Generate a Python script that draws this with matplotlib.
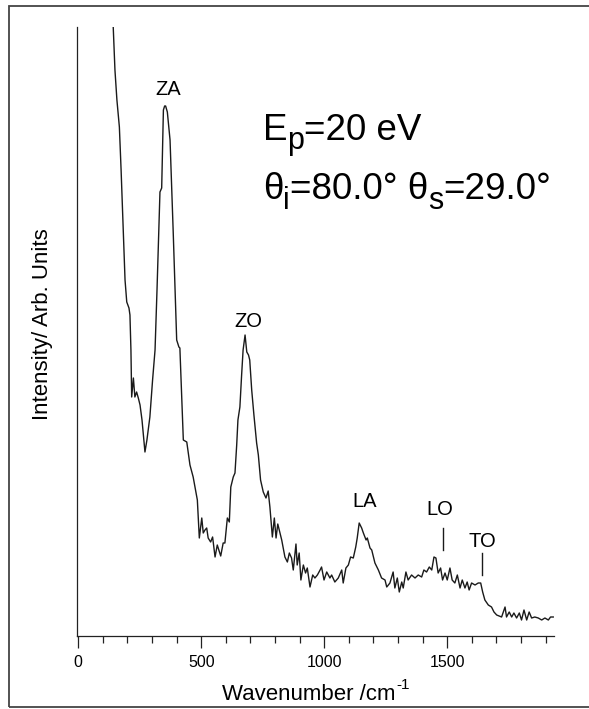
import matplotlib
matplotlib.use("Agg")
import matplotlib.pyplot as plt
from matplotlib.patches import Rectangle
from matplotlib.ticker import MultipleLocator

plt.rcParams['font.family'] = ['Liberation Sans', 'DejaVu Sans']

# Spectrum: wavenumber (cm^-1) and intensity (arb. units)
wavenumber = [141, 142, 149, 157, 167, 174, 183, 190, 197, 206, 210, 214, 217, 224, 230, 237, 244, 251,
              259, 271, 279, 291, 302, 312, 320, 326, 332, 339, 346, 351, 355, 362, 369, 373, 386, 400,
              409, 413, 427, 441, 454, 467, 484, 492, 502, 508, 515, 522, 528, 538, 546, 556, 565, 579,
              589, 596, 606, 614, 620, 630, 637, 644, 649, 657, 664, 670, 678, 685, 692, 697, 705, 714,
              725, 732, 741, 752, 763, 772, 779, 789, 797, 804, 811, 817, 827, 840, 850, 858, 867, 874,
              885, 890, 898, 905, 915, 924, 931, 942, 953, 962, 972, 983, 989, 999, 1010, 1023, 1030,
              1043, 1057, 1071, 1077, 1088, 1098, 1107, 1118, 1128, 1134, 1142, 1152, 1159, 1170, 1175,
              1186, 1193, 1206, 1220, 1233, 1247, 1254, 1267, 1280, 1287, 1297, 1305, 1315, 1321, 1332,
              1341, 1355, 1369, 1382, 1396, 1405, 1416, 1427, 1437, 1446, 1454, 1463, 1473, 1481, 1491,
              1500, 1511, 1520, 1531, 1541, 1552, 1561, 1572, 1581, 1589, 1599, 1613, 1626, 1636, 1644,
              1653, 1667, 1680, 1690, 1701, 1721, 1735, 1741, 1752, 1762, 1771, 1782, 1793, 1802, 1812,
              1823, 1833, 1843, 1856, 1870, 1884, 1897, 1911, 1920, 1931]
intensity = [621, 609, 566, 536, 509, 466, 403, 356, 334, 328, 321, 286, 239, 258, 239, 244, 238, 231,
             216, 184, 196, 219, 256, 286, 346, 396, 444, 448, 526, 530, 530, 524, 506, 496, 403, 296,
             289, 288, 196, 194, 171, 159, 136, 98, 118, 103, 106, 108, 98, 94, 99, 79, 91, 80,
             93, 93, 118, 114, 149, 159, 163, 191, 216, 229, 261, 286, 301, 284, 281, 276, 246, 221,
             193, 181, 156, 144, 138, 145, 129, 99, 118, 98, 112, 106, 96, 79, 74, 83, 78, 66,
             92, 71, 83, 56, 71, 63, 68, 49, 61, 58, 61, 66, 69, 56, 64, 58, 61,
             54, 58, 66, 53, 68, 71, 79, 78, 89, 98, 113, 108, 103, 96, 98,
             88, 86, 73, 66, 58, 56, 49, 53, 64, 48, 58, 44, 54, 48, 64,
             56, 61, 58, 61, 59, 66, 64, 69, 66, 79, 78, 63, 68, 56, 63,
             56, 68, 56, 53, 61, 48, 56, 48, 54, 46, 53, 51, 53, 53, 44,
             36, 31, 29, 24, 21, 19, 29, 19, 24, 19, 23, 18, 23, 16, 26,
             16, 24, 18, 19, 18, 16, 18, 16, 19, 19]

# Peak labels
peak_names = ['ZA', 'ZO', 'LA', 'LO', 'TO']
peak_label_x = [366, 691, 1165, 1470, 1644]
peak_label_y = [541, 309, 129, 121, 89]
# marker bars for LO and TO: x, y_top, y_bottom
bar_x = [1481, 1640]
bar_top = [108, 83]
bar_bottom = [86, 61]

W, H = 589, 709
fig = plt.figure(figsize=(W / 100, H / 100), dpi=100)
ax = fig.add_axes([76.7 / W, 1 - 636 / H, (553.5 - 76.7) / W, (636 - 27) / H])

ax.plot(wavenumber, intensity, color='#1a1a1a', lw=1.0)
ax.set_xlim(-6.5, 1932)
ax.set_ylim(0, 609)

for s in ['top', 'right']:
    ax.spines[s].set_visible(False)
for s in ['left', 'bottom']:
    ax.spines[s].set_linewidth(0.9)
    ax.spines[s].set_color('#222222')
ax.set_yticks([])
ax.xaxis.set_major_locator(MultipleLocator(500))
ax.xaxis.set_minor_locator(MultipleLocator(100))
ax.tick_params(axis='x', which='major', direction='out', length=8.6, width=0.9,
               color='#222222', labelsize=11.5, pad=5)
ax.tick_params(axis='x', which='minor', direction='out', length=5, width=0.9, color='#222222')

for name, x, y in zip(peak_names, peak_label_x, peak_label_y):
    ax.text(x, y, name, fontsize=14.5, ha='center', va='baseline')
for x, t, b in zip(bar_x, bar_top, bar_bottom):
    ax.plot([x, x], [t, b], color='#1a1a1a', lw=1.0)

renderer = fig.canvas.get_renderer()


def rich_text(x_px, base_px, pieces):
    """pieces: list of (string, fontsize, vertical offset in px (positive = down))."""
    x = x_px
    for s, size, dy in pieces:
        t = fig.text(x / W, 1 - (base_px + dy) / H, s, fontsize=size, ha='left', va='baseline')
        bb = t.get_window_extent(renderer=renderer)
        x += bb.width
    return x


rich_text(263, 140, [('E', 26.5, 0), ('p', 22, 9), ('=20 eV', 26.5, 0)])
rich_text(263, 199, [('θ', 26.5, 0), ('i', 22, 10), ('=80.0° θ', 26.5, 0), ('s', 22, 10),
                     ('=29.0°', 26.5, 0)])

# x label with a raised "-1"
xl = fig.text(0, 0, 'Wavenumber /cm', fontsize=16, ha='left', va='baseline')
sup = fig.text(0, 0, '-1', fontsize=11, ha='left', va='baseline')
w_main = xl.get_window_extent(renderer=renderer).width
w_sup = sup.get_window_extent(renderer=renderer).width
x0 = 315 - (w_main + w_sup) / 2
xl.set_position((x0 / W, 1 - 700 / H))
sup.set_position(((x0 + w_main + 1) / W, 1 - 689 / H))

fig.text(43 / W, 1 - 324.5 / H, 'Intensity/ Arb. Units', fontsize=16, rotation=90,
         ha='center', va='center')

fig.patches.append(Rectangle((9 / W, 2 / H), 1.0, 1 - 7.5 / H, transform=fig.transFigure,
                             fill=False, edgecolor='#444444', lw=1.3))

fig.savefig('out.png', dpi=100)
